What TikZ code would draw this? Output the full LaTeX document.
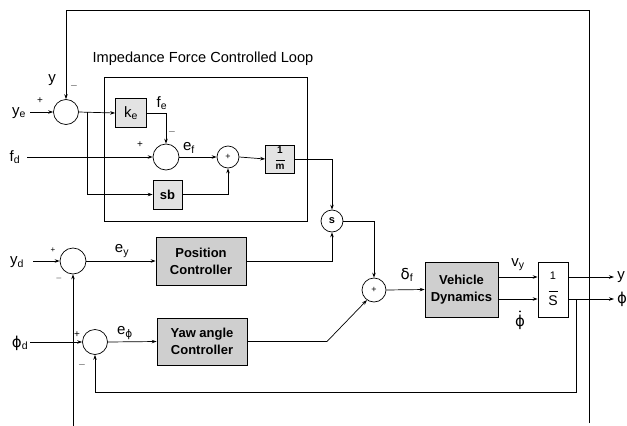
\documentclass[tikz,border=0pt]{standalone}
\usepackage{fontspec}
\setmainfont{Liberation Sans}
\newfontfamily\dejavu{DejaVu Sans}
\usetikzlibrary{arrows.meta}
\newcommand{\gphi}{{\dejavu ϕ}}
\newcommand{\fracbox}[2]{\begin{tabular}{@{}c@{}}#1\\[-4pt]\rule{9pt}{0.7pt}\\[-2pt]#2\end{tabular}}
\begin{document}
\begin{tikzpicture}[x=1pt,y=-1pt,
  line width=0.7pt,
  arr/.style={-{Stealth[length=5pt,width=3.5pt]}},
  sumc/.style={circle,draw,minimum size=25pt,inner sep=0pt},
  lbox/.style={draw,fill=gray!22,inner sep=0pt},
  dbox/.style={draw,fill=gray!38,inner sep=0pt,font=\fontsize{13}{17}\selectfont\bfseries,align=center},
  lab/.style={inner sep=0pt,font=\fontsize{15}{17}\selectfont},
  sgn/.style={inner sep=0pt,font=\fontsize{10}{11}\selectfont}]
\useasboundingbox (0,0) rectangle (627,426);
% impedance frame
\draw (104,77) rectangle (307,221);
\node[lab,font=\fontsize{14.6}{16}\selectfont] (title) at (203,59) {Impedance Force Controlled Loop};
% summing junctions
\node[sumc] (sumA) at (66,112) {};
\node[sumc,minimum size=26pt] (sumB) at (166,157) {};
\node[sumc,minimum size=22pt,font=\fontsize{9}{9}\selectfont] (sumC) at (228,157) {+};
\node[sumc,minimum size=22pt,font=\fontsize{11}{11}\selectfont\bfseries] (sumS) at (332,221) {s};
\node[sumc,minimum size=24pt,font=\fontsize{9}{9}\selectfont] (sumD) at (374,290) {+};
\node[sumc,minimum size=26pt] (sumE) at (73,261) {};
\node[sumc] (sumF) at (95,342) {};
% blocks
\node[lbox,minimum width=31pt,minimum height=29pt,font=\fontsize{15}{17}\selectfont] (ke) at (131,113) {k\textsubscript{e}};
\node[lbox,minimum width=29pt,minimum height=29pt,font=\fontsize{13}{16}\selectfont\bfseries] (sb) at (167.5,194.5) {sb};
\node[lbox,minimum width=29pt,minimum height=28pt,font=\fontsize{10}{11}\selectfont\bfseries] (oneM) at (280,159) {\fracbox{1}{m}};
\node[dbox,minimum width=90pt,minimum height=48pt] (pos) at (201,261) {Position\\Controller};
\node[dbox,minimum width=90pt,minimum height=47pt] (yaw) at (202,341.5) {Yaw angle\\Controller};
\node[dbox,minimum width=73pt,minimum height=55pt] (veh) at (461.5,289.5) {Vehicle\\Dynamics};
\node[draw,fill=white,minimum width=30pt,minimum height=55pt,inner sep=0pt,font=\fontsize{14}{16}\selectfont] (int) at (553,289.5) {\fracbox{\fontsize{11}{12}\selectfont 1}{S}};
% coordinates
\coordinate (rtop) at (589,10);
\coordinate (rbot) at (589,423);
\coordinate (yein) at (30,112);
\coordinate (br1) at (87,112);
\coordinate (fdin) at (27,157);
\coordinate (ydin) at (33,261);
\coordinate (phidin) at (30,342);
\coordinate (lbot) at (73,426);
\coordinate (ybend) at (327,341.5);
\coordinate (yout) at (614,277);
\coordinate (phiout) at (614,299);
\coordinate (tap) at (576,299);
\coordinate (fbk) at (576,392);
% connectors
\draw[arr] (rbot) -- (rtop) -| (sumA.north);
\draw[arr] (yein) -- (sumA.west);
\draw[arr] (sumA.east) -- (ke.west);
\draw[arr] (br1) |- (sb.west);
\draw[arr] (ke.east) -| (sumB.north);
\draw[arr] (fdin) -- (sumB.west);
\draw[arr] (sumB.east) -- (sumC.west);
\draw[arr] (sb.east) -| (sumC.south);
\draw[arr] (sumC.east) -- (oneM.west);
\draw[arr] (oneM.east) -| (sumS.north);
\draw[arr] (pos.east) -| (sumS.south);
\draw[arr] (sumS.east) -| (sumD.north);
\draw[arr] (yaw.east) -- (ybend) -- (sumD.235);
\draw[arr] (sumD.east) -- (veh.west);
\draw[arr] ([yshift=12.5pt]veh.east) -- ([yshift=12.5pt]int.west);
\draw[arr] ([yshift=-9.5pt]veh.east) -- ([yshift=-9.5pt]int.west);
\draw[arr] ([yshift=12.5pt]int.east) -- (yout);
\draw[arr] ([yshift=-9.5pt]int.east) -- (phiout);
\draw[arr] (tap) -- (fbk) -| (sumF.south);
\draw[arr] (ydin) -- (sumE.west);
\draw[arr] (sumE.east) -- (pos.west);
\draw[arr] (lbot) -- (sumE.south);
\draw[arr] (phidin) -- (sumF.west);
\draw[arr] (sumF.east) -- (yaw.west);
% labels
\node[lab] (ly) at (52,80) {y};
\node[sgn] (mA) at (74,86) {$-$};
\node[sgn] (pA) at (40,101) {+};
\node[lab] (lye) at (19,113) {y\textsubscript{e}};
\node[lab] (lfe) at (162,103) {f\textsubscript{e}};
\node[sgn] (mB) at (172,132) {$-$};
\node[sgn] (pB) at (140,145) {+};
\node[lab] (lef) at (189,148) {e\textsubscript{f}};
\node[lab] (lfd) at (15,157) {f\textsubscript{d}};
\node[lab] (lyd) at (17,262) {y\textsubscript{d}};
\node[sgn,font=\fontsize{8}{9}\selectfont] (pE) at (53,250) {+};
\node[sgn,font=\fontsize{8}{9}\selectfont] (mE) at (59,278) {$-$};
\node[lab] (ley) at (122,251) {e\textsubscript{y}};
\node[lab] (lphid) at (20,343) {\gphi\textsubscript{d}};
\node[sgn] (pF) at (77,335) {+};
\node[sgn] (mF) at (82,365) {$-$};
\node[lab] (lephi) at (125,333) {e\textsubscript{\gphi}};
\node[lab] (ldelta) at (407,275) {{\dejavu δ}\textsubscript{f}};
\node[lab] (lvy) at (518,265) {v\textsubscript{y}};
\node[lab] (lphidot) at (520,322) {\gphi};
\fill ([yshift=3pt]lphidot.north) circle (1pt);
\node[lab] (lyout) at (621,277) {y};
\node[lab] (lphiout) at (622,299) {\gphi};
\end{tikzpicture}
\end{document}
